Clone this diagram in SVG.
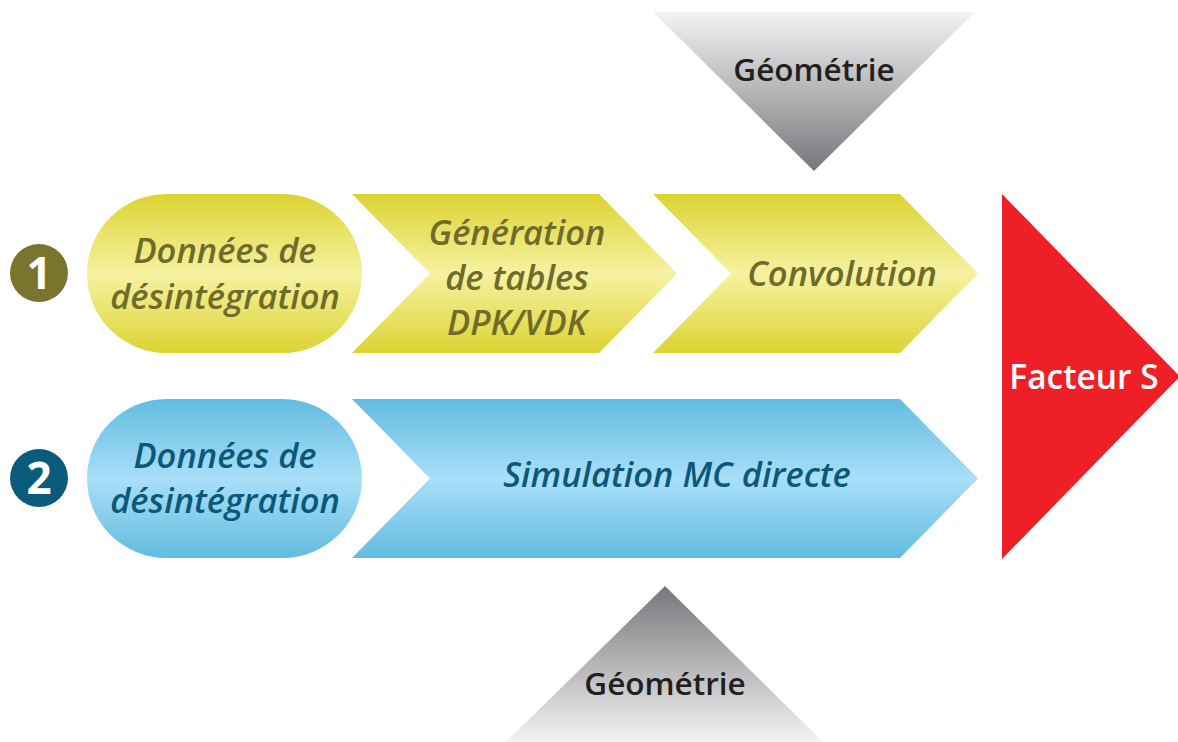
<svg xmlns="http://www.w3.org/2000/svg" width="1178" height="742" viewBox="0 0 1178 742">
  <style>
    .lbl { font-family: "Open Sans", "Noto Sans", sans-serif; font-style: italic; font-weight: 600; font-size: 34.5px; text-anchor: middle; }
    .olive { fill: #6f6b2b; }
    .teal { fill: #0b5878; }
    .geo { font-family: "Open Sans", "Noto Sans", sans-serif; font-weight: 600; font-size: 31.5px; fill: #231f20; text-anchor: middle; }
    .num { font-family: "Open Sans", "Noto Sans", sans-serif; font-weight: 700; font-size: 44px; fill: #ffffff; text-anchor: middle; }
    .out { font-family: "Open Sans", "Noto Sans", sans-serif; font-weight: 600; font-size: 33.5px; fill: #ffffff; text-anchor: middle; }
  </style>
  <defs>
    <linearGradient id="gYellow" x1="0" y1="0" x2="0" y2="1">
      <stop offset="0" stop-color="#dcd331"/>
      <stop offset="0.5" stop-color="#f6f2a2"/>
      <stop offset="1" stop-color="#dcd331"/>
    </linearGradient>
    <linearGradient id="gBlue" x1="0" y1="0" x2="0" y2="1">
      <stop offset="0" stop-color="#62bce0"/>
      <stop offset="0.5" stop-color="#a9dff8"/>
      <stop offset="1" stop-color="#62bce0"/>
    </linearGradient>
    <linearGradient id="gGreyDown" x1="0" y1="0" x2="0" y2="1">
      <stop offset="0" stop-color="#f3f3f4"/>
      <stop offset="1" stop-color="#76777a"/>
    </linearGradient>
    <linearGradient id="gGreyUp" x1="0" y1="0" x2="0" y2="1">
      <stop offset="0" stop-color="#76777a"/>
      <stop offset="1" stop-color="#f3f3f4"/>
    </linearGradient>
  </defs>

  <rect width="1178" height="742" fill="#ffffff"/>

  <!-- route 1 -->
  <g id="badge1">
    <circle cx="39" cy="273" r="29" fill="#79752f"/>
    <text class="num" x="39" y="289">1</text>
  </g>
  <g id="data1">
    <rect x="87" y="194" width="275" height="159" rx="79.5" fill="url(#gYellow)"/>
    <text class="lbl olive" x="225" y="263">Données de</text>
    <text class="lbl olive" x="225" y="309">désintégration</text>
  </g>
  <g id="tables">
    <polygon points="352,194 599,194 677,273.5 599,353 352,353 430,273.5" fill="url(#gYellow)"/>
    <text class="lbl olive" x="517" y="245">Génération</text>
    <text class="lbl olive" x="517" y="290">de tables</text>
    <text class="lbl olive" x="517" y="335">DPK/VDK</text>
  </g>
  <g id="convolution">
    <polygon points="653,194 900,194 978,273.5 900,353 653,353 731,273.5" fill="url(#gYellow)"/>
    <text class="lbl olive" x="842" y="286">Convolution</text>
  </g>

  <!-- route 2 -->
  <g id="badge2">
    <circle cx="39" cy="478" r="29" fill="#0a5a7b"/>
    <text class="num" x="39" y="494">2</text>
  </g>
  <g id="data2">
    <rect x="87" y="399" width="275" height="159" rx="79.5" fill="url(#gBlue)"/>
    <text class="lbl teal" x="225" y="468">Données de</text>
    <text class="lbl teal" x="225" y="513">désintégration</text>
  </g>
  <g id="mc">
    <polygon points="352,399 900,399 978,478.5 900,558 352,558 430,478.5" fill="url(#gBlue)"/>
    <text class="lbl teal" x="677" y="487">Simulation MC directe</text>
  </g>

  <!-- geometry inputs -->
  <g id="geometry-top">
    <polygon points="653,12 975,12 814,171" fill="url(#gGreyDown)"/>
    <text class="geo" x="814" y="81">Géométrie</text>
  </g>
  <g id="geometry-bottom">
    <polygon points="665,586 823,742 506,742" fill="url(#gGreyUp)"/>
    <text class="geo" x="665" y="695">Géométrie</text>
  </g>

  <!-- result -->
  <g id="facteur-s">
    <polygon points="1002,194 1180,376.5 1002,559" fill="#ee1f26"/>
    <text class="out" x="1084" y="389">Facteur S</text>
  </g>

  <g id="connectors"></g>
</svg>
